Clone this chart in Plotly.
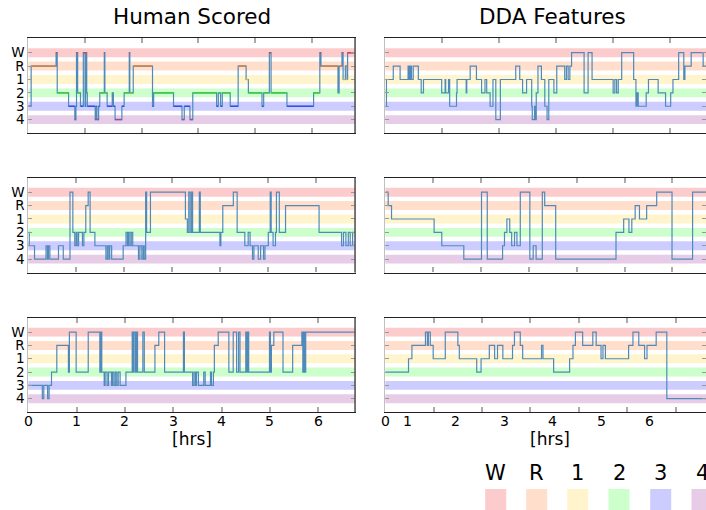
import plotly.graph_objects as go

# ---- sleep stage labels and colours ----
STAGES = ["W", "R", "1", "2", "3", "4"]
band_colors = ["#fccccc", "#ffdfcc", "#fff4cc", "#ccffcc", "#ccccff", "#e6cce6"]
stage_line_colors = ["#e03c3c", "#cd844e", "#d8b840", "#3ccc3c", "#3050e6", "#9050a8"]

# ---- hypnograms: stage change times (hours) and stages ----
# Human scored, subject A
tl_t = [0.00, 0.05, 0.49, 0.51, 0.71, 0.82, 0.84, 0.85, 0.87, 0.92,
        0.97, 1.00, 1.01, 1.03, 1.04, 1.18, 1.20, 1.21, 1.24, 1.26,
        1.34, 1.35, 1.39, 1.48, 1.50, 1.53, 1.65, 1.69, 1.78, 1.79,
        1.85, 2.19, 2.21, 2.56, 2.71, 2.75, 2.85, 2.90, 3.32, 3.35,
        3.39, 3.42, 3.56, 3.70, 3.84, 3.88, 4.12, 4.15, 4.25, 4.28,
        4.56, 5.03, 5.14, 5.16, 5.46, 5.48, 5.53, 5.55, 5.59, 5.62, 5.63]
tl_s = list("3RW2343W23" "W3W2343432" "W2323432W2" "R323434232" "323R1232W2" "32WR2RW1R1W")
tl_end = 5.75

# DDA features, subject A
tr_t = [0.00, 0.02, 0.14, 0.26, 0.40, 0.42, 0.44, 0.46, 0.49, 0.58,
        0.63, 0.67, 0.99, 1.05, 1.06, 1.11, 1.13, 1.25, 1.26, 1.42,
        1.43, 1.49, 1.60, 1.69, 1.75, 1.78, 1.84, 1.89, 1.94, 2.02,
        2.29, 2.36, 2.41, 2.48, 2.57, 2.58, 2.62, 2.63, 2.65, 2.68,
        2.74, 2.80, 2.84, 2.87, 2.96, 3.01, 3.15, 3.18, 3.21, 3.24,
        3.27, 3.49, 3.56, 3.63, 4.00, 4.03, 4.06, 4.09, 4.15, 4.36,
        4.40, 4.42, 4.44, 4.58, 4.62, 4.79, 4.92, 5.01, 5.05, 5.15,
        5.24, 5.26, 5.37, 5.58]
tr_s = list("31R1R1R1R1" "2121213212" "1R12123141" "R12134342R" "13412R1R1R"
            "W2W12121W1" "323212321W" "1RWR")
tr_end = 5.63

# Human scored, subject B
ml_t = [0.00, 0.02, 0.13, 0.37, 0.40, 0.42, 0.45, 0.63, 0.73, 0.87,
        0.93, 0.97, 1.00, 1.02, 1.05, 1.13, 1.16, 1.20, 1.25, 1.29,
        1.39, 1.62, 1.65, 1.68, 1.70, 1.74, 1.98, 2.04, 2.07, 2.09,
        2.12, 2.15, 2.18, 2.30, 2.33, 2.37, 2.40, 2.42, 2.45, 2.47,
        2.55, 3.28, 3.32, 3.35, 3.38, 3.41, 3.43, 3.57, 3.59, 4.00,
        4.02, 4.06, 4.28, 4.36, 4.52, 4.59, 4.63, 4.68, 4.71, 4.80,
        4.85, 4.91, 4.94, 5.01, 5.05, 5.07, 5.11, 5.16, 5.18, 5.24,
        5.37, 6.07, 6.54, 6.58, 6.63, 6.68, 6.72, 6.77]
ml_s = list("234343434W" "2323232RW2" "3434343232" "32343434W2" "W12W2W2W23"
            "2RW2323434" "3432W232W2" "R2323232")
ml_end = 6.82

# DDA features, subject B
mr_t = [0.00, 0.06, 0.13, 1.02, 1.18, 1.64, 2.01, 2.13, 2.45, 2.49,
        2.54, 2.60, 2.64, 2.70, 2.75, 2.82, 3.02, 3.09, 3.15, 3.28,
        3.33, 3.56, 4.82, 4.98, 5.09, 5.15, 5.22, 5.31, 5.46, 5.67,
        5.99, 6.42]
mr_s = list("WR1234W432" "12323W434W" "R42121R1RW4W")
mr_end = 6.70

# Human scored, subject C
bl_t = [0.00, 0.29, 0.32, 0.40, 0.43, 0.48, 0.59, 0.83, 0.85, 0.99,
        1.24, 1.48, 1.50, 1.52, 1.57, 1.59, 1.63, 1.66, 1.72, 1.74,
        1.77, 1.80, 1.83, 1.86, 1.90, 2.02, 2.15, 2.17, 2.19, 2.22,
        2.24, 2.26, 2.37, 2.40, 2.62, 2.70, 2.82, 3.21, 3.23, 3.40,
        3.43, 3.46, 3.48, 3.52, 3.63, 3.66, 3.77, 3.79, 3.83, 3.85,
        3.93, 4.15, 4.24, 4.31, 4.35, 4.38, 4.50, 4.52, 4.54, 4.56,
        4.99, 5.01, 5.03, 5.08, 5.27, 5.47, 5.66, 5.68, 5.70, 5.72, 5.74]
bl_s = list("343432R2W2" "W2W2323232" "323232W2W2" "W2W2RW2W23" "232323232R"
            "W2W2W2W2W2" "W2RW2RW2W2W")
bl_end = 6.76

# DDA features, subject C
br_t = [0.00, 0.48, 0.55, 0.83, 0.87, 0.89, 0.93, 0.99, 1.24, 1.50,
        1.53, 1.89, 1.98, 2.15, 2.26, 2.32, 2.43, 2.63, 2.67, 2.79,
        2.84, 3.23, 3.26, 3.48, 3.81, 3.88, 3.93, 4.08, 4.29, 4.36,
        4.46, 4.50, 4.55, 5.03, 5.12, 5.24, 5.36, 5.41, 5.60, 5.82]
br_s = list("21RWRWR1WR" "121R1R1RWR" "1R121RWRWR" "1R1RWR1RW4")
br_end = 6.63

# x tick labels of the lower panels and where they sit
bl_tick_text = ["0", "1", "2", "3", "4", "5", "6"]
bl_tick_pos = [0, 1, 2, 3, 4, 5, 6]
br_tick_text = ["0", "1", "2", "3", "4", "5", "6"]
br_tick_pos = [0.0, 0.46, 1.46, 2.46, 3.46, 4.46, 5.47]

W, H = 706, 510
left_dom = [28.3 / W, 355.0 / W]
right_dom = [385.3 / W, 1.0]
rows_px = [(38.0, 133.0), (177.5, 272.5), (317.5, 412.0)]
row_dom = [[1 - b / H, 1 - t / H] for t, b in rows_px]

panels = [
    dict(t=tl_t, s=tl_s, end=tl_end, xr=5.76, xd=left_dom, yd=row_dom[0], left=True, colored=True),
    dict(t=tr_t, s=tr_s, end=tr_end, xr=5.63, xd=right_dom, yd=row_dom[0], left=False, colored=False),
    dict(t=ml_t, s=ml_s, end=ml_end, xr=6.82, xd=left_dom, yd=row_dom[1], left=True, colored=False),
    dict(t=mr_t, s=mr_s, end=mr_end, xr=6.70, xd=right_dom, yd=row_dom[1], left=False, colored=False),
    dict(t=bl_t, s=bl_s, end=bl_end, xr=6.76, xd=left_dom, yd=row_dom[2], left=True, colored=False),
    dict(t=br_t, s=br_s, end=br_end, xr=6.63, xd=right_dom, yd=row_dom[2], left=False, colored=False),
]

fig = go.Figure()
shapes = []
annotations = []
layout_axes = {}

for i, p in enumerate(panels, start=1):
    xa = "x" if i == 1 else f"x{i}"
    ya = "y" if i == 1 else f"y{i}"
    idx = [STAGES.index(s) for s in p["s"]]
    xs = list(p["t"]) + [p["end"]]
    ys = idx + [idx[-1]]

    # pastel stage bands
    for k, c in enumerate(band_colors):
        shapes.append(dict(type="rect", xref=f"{xa} domain", yref=ya,
                           x0=0, x1=1, y0=k - 0.335, y1=k + 0.335,
                           fillcolor=c, line=dict(width=0), layer="below"))

    fig.add_trace(go.Scatter(x=xs, y=ys, mode="lines", line_shape="hv",
                             line=dict(color="#4f8aba", width=1.2),
                             xaxis=xa, yaxis=ya, showlegend=False,
                             hoverinfo="skip"))

    if p["colored"]:
        # stage-coloured horizontal segments
        for k in range(len(STAGES)):
            sx, sy = [], []
            for j in range(len(idx)):
                if idx[j] == k:
                    sx += [xs[j], xs[j + 1], None]
                    sy += [k, k, None]
            if sx:
                fig.add_trace(go.Scatter(x=sx, y=sy, mode="lines",
                                         line=dict(color=stage_line_colors[k], width=1.5),
                                         xaxis=xa, yaxis=ya, showlegend=False,
                                         hoverinfo="skip"))

    xticks = [v for v in range(1, 7) if v < p["xr"]]
    layout_axes["xaxis" if i == 1 else f"xaxis{i}"] = dict(
        domain=p["xd"], anchor=ya, range=[0, p["xr"]],
        tickmode="array", tickvals=xticks, showticklabels=False,
        ticks="inside", ticklen=5, tickwidth=1.5, tickcolor="#aaaaaa",
        showgrid=False, zeroline=False,
        showline=True, linecolor="#222222", linewidth=1.4, mirror="ticks",
    )
    layout_axes["yaxis" if i == 1 else f"yaxis{i}"] = dict(
        domain=p["yd"], anchor=xa, range=[6.0, -1.1],
        tickmode="array", tickvals=list(range(6)), ticktext=STAGES,
        showticklabels=p["left"],
        ticks="inside", ticklen=4, tickwidth=1, tickcolor="#999999",
        showgrid=False, zeroline=False,
        showline=True, linecolor="#c0c0c0", linewidth=1, mirror="ticks",
        tickfont=dict(size=13.5, color="black"),
    )
    if p["left"]:
        shapes.append(dict(type="line", xref="paper", yref="paper",
                           x0=p["xd"][1], x1=p["xd"][1], y0=p["yd"][0], y1=p["yd"][1],
                           line=dict(color="#555555", width=1.5)))

# lower panel x tick labels
for xa, texts, positions in (("x5", bl_tick_text, bl_tick_pos), ("x6", br_tick_text, br_tick_pos)):
    for txt, pos in zip(texts, positions):
        annotations.append(dict(text=txt, x=pos, xref=xa, y=1 - 420.5 / H, yref="paper",
                                showarrow=False, xanchor="center", yanchor="middle",
                                font=dict(size=14, color="black")))

# column titles
annotations.append(dict(text="Human Scored", x=191.7 / W, y=1 - 16.5 / H, xref="paper", yref="paper",
                        showarrow=False, xanchor="center", yanchor="middle",
                        font=dict(size=21.5, color="black")))
annotations.append(dict(text="DDA Features", x=552.0 / W, y=1 - 16.5 / H, xref="paper", yref="paper",
                        showarrow=False, xanchor="center", yanchor="middle",
                        font=dict(size=21.5, color="black")))

# axis titles
for cx in (191.7, 550.0):
    annotations.append(dict(text="[hrs]", x=cx / W, y=1 - 438.5 / H, xref="paper", yref="paper",
                            showarrow=False, xanchor="center", yanchor="middle",
                            font=dict(size=17, color="black")))

# stage colour key
key_centers = [495.7, 536.7, 577.7, 619.0, 660.7, 702.0]
for k, cx in enumerate(key_centers):
    annotations.append(dict(text=STAGES[k], x=cx / W, y=1 - 472.5 / H, xref="paper", yref="paper",
                            showarrow=False, xanchor="center", yanchor="middle",
                            font=dict(size=21, color="black")))
    shapes.append(dict(type="rect", xref="paper", yref="paper",
                       x0=(cx - 10.5) / W, x1=(cx + 10.5) / W,
                       y0=1 - 510.0 / H, y1=1 - 489.0 / H,
                       fillcolor=band_colors[k], line=dict(width=0)))

fig.update_layout(
    width=W, height=H,
    margin=dict(l=0, r=0, t=0, b=0),
    paper_bgcolor="white", plot_bgcolor="white",
    font=dict(family="DejaVu Sans", color="black"),
    shapes=shapes, annotations=annotations,
    **layout_axes,
)

fig.write_html("out.html")
